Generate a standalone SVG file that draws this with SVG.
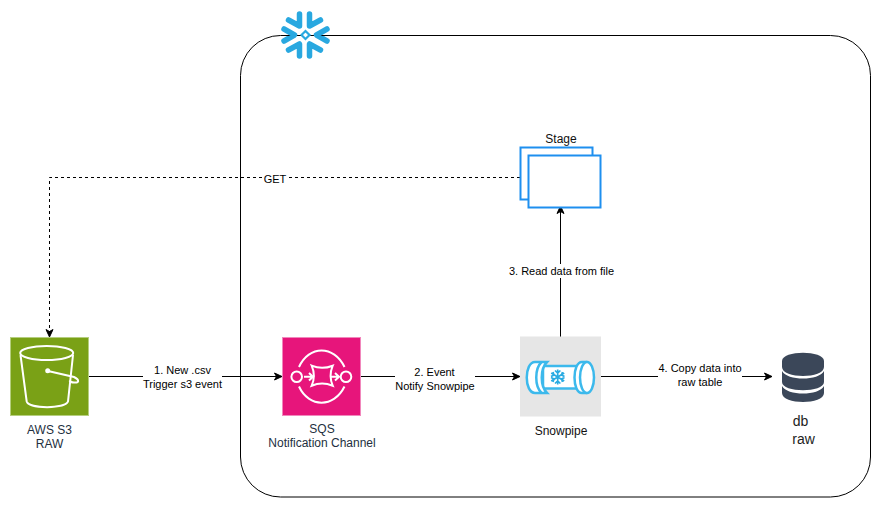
<svg xmlns="http://www.w3.org/2000/svg" width="881" height="508" viewBox="0 0 881 508">
<style>
text{font-family:"Liberation Sans",Arial,sans-serif;text-anchor:middle}
.l{font-size:11px;fill:#000}
.n{font-size:12px;fill:#232F3E}
.k{font-size:12px;fill:#111}
.d{font-size:14px;fill:#222}
.c{fill:none;stroke:#000;stroke-width:1}
.bg{fill:#fff}
.w{fill:none;stroke:#fff;stroke-width:2}
.sb{fill:#fff;stroke:#3CB9EC;stroke-width:2.500}
.sl{fill:none;stroke:#3CB9EC;stroke-width:2.500}
.st{fill:#fff;stroke:#1E8FEF;stroke-width:2}
.sf{fill:none;stroke:#29A8E0;stroke-width:5.500;stroke-linecap:round;stroke-linejoin:round}
.dbf{fill:#3B4759}
</style>
<defs>
<marker id="a" markerUnits="userSpaceOnUse" markerWidth="10" markerHeight="10" refX="9" refY="5" orient="auto"><path d="M1.500 1.500L9 5L1.500 8.500L3.500 5Z" fill="#000" stroke="#000" stroke-width="1"/></marker>
</defs>
<g id="container"><rect x="240.500" y="35.500" width="630" height="461.500" rx="40" ry="40" fill="#fff" stroke="#000" stroke-width="1"/></g>
<g id="connectors">
<path class="c" d="M520 177.500H49.500V337" stroke-dasharray="3 3" marker-end="url(#a)"/>
<path class="c" d="M89 376.500H282" marker-end="url(#a)"/>
<path class="c" d="M361 376.500H520" marker-end="url(#a)"/>
<path class="c" d="M560.500 337V206" marker-end="url(#a)"/>
<path class="c" d="M601 376.500H772" marker-end="url(#a)"/>
<g>
<rect class="bg" x="263" y="172" width="24" height="12"/><text class="l" x="275" y="183">GET</text>
<rect class="bg" x="143" y="365" width="79" height="26"/><text class="l" x="182.500" y="374">1. New .csv</text><text class="l" x="182.500" y="388">Trigger s3 event</text>
<rect class="bg" x="395" y="365" width="80" height="27"/><text class="l" x="434.500" y="376">2. Event</text><text class="l" x="435" y="390">Notify Snowpipe</text>
<rect class="bg" x="508" y="264" width="107" height="14"/><text class="l" x="561.500" y="275">3. Read data from file</text>
<rect class="bg" x="658" y="362" width="84" height="26"/><text class="l" x="700" y="372">4. Copy data into</text><text class="l" x="700" y="386">raw table</text>
</g>
</g>
<g id="snowflake">
<path class="sf" d="M299.500 14V26L288.500 20M309.500 14V26L320.500 20M284 29L294.500 35L284 41M327 29L316.500 35L327 41M288.500 50L299.500 44V56M320.500 50L309.500 44V56"/>
<path d="M305.500 31L309.500 35L305.500 39L301.500 35Z" fill="#fff" stroke="#29A8E0" stroke-width="2.200"/>
</g>
<g id="stage">
<text class="k" x="561" y="143">Stage</text>
<rect class="st" x="520.500" y="147.500" width="72" height="52"/>
<rect class="st" x="528.500" y="155.500" width="72" height="52"/>
</g>
<g id="s3">
<rect x="10.500" y="337.500" width="78" height="78" fill="#7AA116" stroke="#B5CE7E"/>
<ellipse cx="46.700" cy="353" rx="26.500" ry="7" class="w"/>
<path class="w" d="M20.500 355L26.700 401.500C29 409 65 409 68 401.500L73 355"/>
<path class="w" d="M48 371L74 377C80 380 79 383 74 382.500C72 382.500 70 381.500 69.500 380.500"/>
<circle cx="47.700" cy="370.700" r="2.500" fill="#fff"/>
<text class="n" x="49.500" y="434">AWS S3</text><text class="n" x="49.500" y="448">RAW</text>
</g>
<g id="sqs">
<rect x="282.500" y="337.500" width="78" height="78" fill="#E7157B" stroke="#F187BC"/>
<path class="w" d="M299 367C309 345 334 345 344.500 367M299 386.500C309 408 334 408 344.500 386.500"/>
<circle cx="296.700" cy="376.700" r="5.300" class="w"/><circle cx="346" cy="376.700" r="5.300" class="w"/>
<path class="w" d="M304 376.700H312M309 373L313 376.700L309 380.400M331 376.700H338M335 373L339 376.700L335 380.400"/>
<path class="w" d="M311.700 365.700Q322 370 332.700 365.700Q328.500 376 332.700 385.700Q322 381.500 311.700 385.700Q316 376 311.700 365.700Z"/>
<text class="n" x="322" y="433">SQS</text><text class="n" x="322" y="447">Notification Channel</text>
</g>
<g id="snowpipe">
<rect x="520" y="336.500" width="81" height="80" fill="#E6E6E6"/>
<rect class="sb" x="543" y="366" width="36" height="22.500"/>
<path class="sb" d="M535 362H547C540 369 540 386 547 393H535C524 393 524 362 535 362Z"/>
<path class="sl" d="M541.500 362C534.500 369 534.500 386 541.500 393"/>
<path class="sb" d="M586 362H582C572 362 572 393 582 393H586Z"/>
<ellipse class="sb" cx="587" cy="377.500" rx="7" ry="15.500"/>
<path d="M557.700 369.500V384.500M551.200 373L564.200 381M551.200 381L564.200 373M555 370.500L557.700 373L560.400 370.500M555 383.500L557.700 381L560.400 383.500M551 376.500L554 375L553 372M564.500 376.500L561.500 375L562.500 372M551 377.500L554 379L553 382M564.500 377.500L561.500 379L562.500 382" fill="none" stroke="#29ABE2" stroke-width="1.700"/>
<text class="k" x="561" y="435">Snowpipe</text>
</g>
<g id="db">
<path class="dbf" d="M782 361C782 350 824 350 824 361V367C824 379 782 379 782 367Z"/>
<path class="dbf" d="M782 371C787 381 819 381 824 371V382C824 393 782 393 782 382Z"/>
<path class="dbf" d="M782 386C787 396 819 396 824 386V393C824 405 782 405 782 393Z"/>
<text class="d" x="800.500" y="426">db</text><text class="d" x="803.500" y="444">raw</text>
</g>
</svg>
